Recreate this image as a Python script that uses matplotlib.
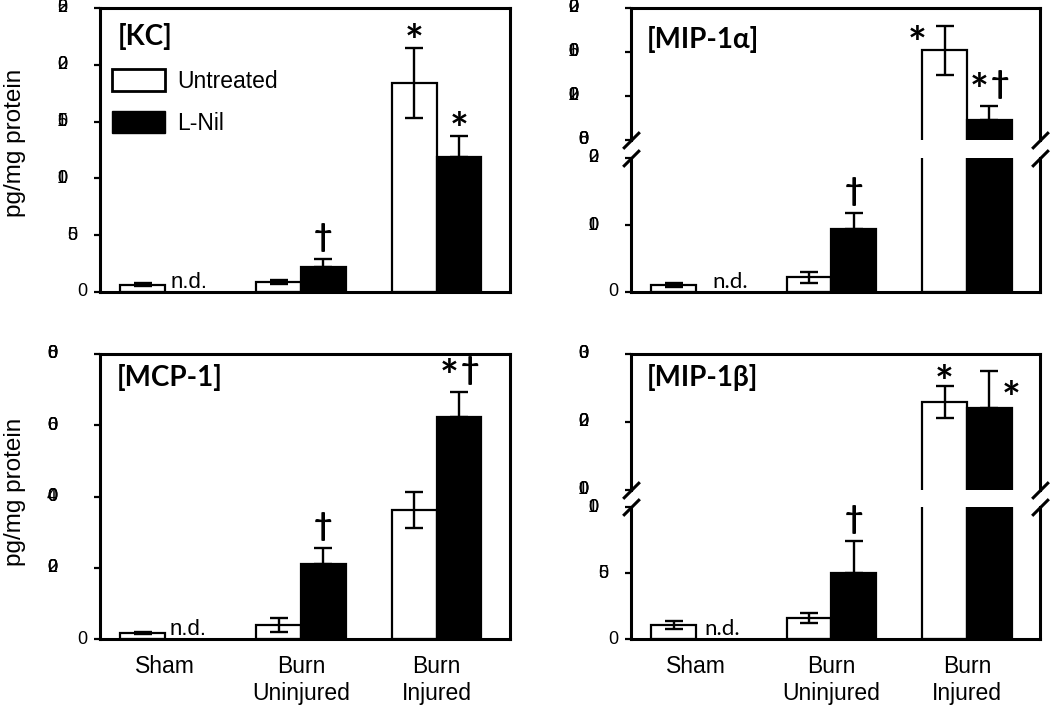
import numpy as np
import matplotlib
matplotlib.use('Agg')
import matplotlib.pyplot as plt
from matplotlib.patches import Patch

plt.rcParams['font.family'] = ['Liberation Sans', 'DejaVu Sans']

groups = ['Sham', 'Burn\nUninjured', 'Burn\nInjured']
series = ['Untreated', 'L-Nil']

# values (sham L-Nil = n.d.)
kc_untreated = [6.5, 8.7, 184]
kc_untreated_err = [1.5, 2.0, 31]
kc_lnil = [np.nan, 22, 119]
kc_lnil_err = [np.nan, 7, 18]
kc_ticks = [0, 50, 100, 150, 200, 250]

mip1a_untreated = [10, 22, 16150]
mip1a_untreated_err = [3, 8, 2250]
mip1a_lnil = [np.nan, 94, 9790]
mip1a_lnil_err = [np.nan, 24, 1340]
mip1a_ticks_low = [0, 100, 200]
mip1a_ticks_high = [8000, 12000, 16000, 20000]

mcp1_untreated = [170, 400, 3630]
mcp1_untreated_err = [30, 190, 510]
mcp1_lnil = [np.nan, 2110, 6225]
mcp1_lnil_err = [np.nan, 450, 700]
mcp1_ticks = [0, 2000, 4000, 6000, 8000]

mip1b_untreated = [10.6, 16, 2300]
mip1b_untreated_err = [3, 3.7, 235]
mip1b_lnil = [np.nan, 50, 2200]
mip1b_lnil_err = [np.nan, 24, 550]
mip1b_ticks_low = [0, 50, 100]
mip1b_ticks_high = [1000, 2000, 3000]

# significance marks per bar
kc_marks = [['', '', '*'], ['', '†', '*']]
mip1a_marks = [['', '', '*'], ['', '†', '*†']]
mcp1_marks = [['', '', ''], ['', '†', '*†']]
mip1b_marks = [['', '', '*'], ['', '†', '*']]

W = 0.33
X = np.arange(3)
SYM_FONT = ['Lato', 'DejaVu Sans']

fig = plt.figure(figsize=(10.5, 7.06), dpi=100)


def px_axes(left, top, right, bottom):
    return fig.add_axes([left / 1050, (706 - bottom) / 706,
                         (right - left) / 1050, (bottom - top) / 706])


def style(ax, ylim, ticks):
    ax.set_xlim(-0.48, 2.54)
    ax.set_ylim(*ylim)
    for s in ax.spines.values():
        s.set_linewidth(2.2)
    ax.tick_params(axis='x', length=0, labelbottom=False)
    ax.tick_params(axis='y', length=4, width=1.6, labelleft=False)
    ax.set_yticks(ticks)
    # tick labels come out with all digits stacked on one spot
    for t in ticks:
        s = str(t)
        for ch in s:
            ax.annotate(ch, xy=(0, t), xycoords=('axes fraction', 'data'),
                        xytext=(-(9.4 + 7.2 * len(s)), 0), textcoords='offset points',
                        ha='left', va='center', fontsize=13, annotation_clip=False)


def bars(ax, unt, unt_err, lnil, lnil_err):
    ax.bar(X - W / 2, unt, W, color='white', edgecolor='black', linewidth=1.6, zorder=2)
    ax.bar(X + W / 2, lnil, W, color='black', edgecolor='black', linewidth=1.6, zorder=2)
    ax.errorbar(X - W / 2, unt, yerr=unt_err, fmt='none', ecolor='black',
                elinewidth=1.7, capsize=6.5, capthick=1.7, zorder=3)
    ax.errorbar(X + W / 2, lnil, yerr=[np.zeros(3), lnil_err], fmt='none', ecolor='black',
                elinewidth=1.7, capsize=6.5, capthick=1.7, zorder=3)


def symbol(ax, ch, x, y, dx, dy):
    big = ch == '*'
    ax.annotate(ch, xy=(x, y), xytext=(dx, dy), textcoords='offset points',
                ha='center', va='center', fontsize=32 if big else 23,
                fontweight='bold', family=SYM_FONT, annotation_clip=False)


def marks(ax, marks_list, vals, errs, special=None):
    special = special or {}
    for k, (m_row, v_row, e_row) in enumerate(zip(marks_list, vals, errs)):
        for i, m in enumerate(m_row):
            if not m:
                continue
            x = X[i] + (k - 0.5) * W
            top = v_row[i] + e_row[i]
            if m == '*†':
                symbol(ax, '*', x, top, -7, 10)
                symbol(ax, '†', x, top, 7.5, 15.5)
            elif m == '*':
                dx, dy = special.get((k, i), (0, 3.6))
                symbol(ax, '*', x, top, dx, dy)
            else:
                symbol(ax, m, x, top, 0, 15.5)


def nd(ax, dx, family):
    ax.annotate('n.d.', xy=(X[0], 0), xytext=(dx, 3), textcoords='offset points',
                ha='left', va='baseline', fontsize=16, family=family)


def title(ax, text, x, y):
    ax.text(x, y, text, transform=ax.transAxes, ha='left', va='center',
            fontsize=20, fontweight='bold', family=SYM_FONT)


def breaks(ax, y):
    ax.plot([0, 1], [y, y], transform=ax.transAxes, marker=[(-1, -1), (1, 1)],
            markersize=12, mew=2.2, color='black', linestyle='none', clip_on=False)


# [KC]
ax = px_axes(100, 8, 510, 292)
style(ax, (0, 250), kc_ticks)
bars(ax, kc_untreated, kc_untreated_err, kc_lnil, kc_lnil_err)
marks(ax, kc_marks, [kc_untreated, kc_lnil], [kc_untreated_err, kc_lnil_err])
nd(ax, 4, ['Liberation Sans'])
title(ax, '[KC]', 0.044, 0.899)
ax.legend([Patch(facecolor='white', edgecolor='black', linewidth=2),
           Patch(facecolor='black', edgecolor='black')], series,
          loc='upper left', bbox_to_anchor=(0.029, 0.785), frameon=False, fontsize=16.5,
          handlelength=2.3, handleheight=1.1, handletextpad=0.55, labelspacing=0.78,
          borderpad=0, borderaxespad=0)

# [MIP-1α] broken axis
hi = px_axes(631, 8, 1040, 140)
lo = px_axes(631, 158, 1040, 292)
style(hi, (8000, 20000), mip1a_ticks_high)
style(lo, (0, 200), mip1a_ticks_low)
for a in (hi, lo):
    bars(a, mip1a_untreated, mip1a_untreated_err, mip1a_lnil, mip1a_lnil_err)
hi.spines['bottom'].set_visible(False)
lo.spines['top'].set_visible(False)
breaks(hi, 0)
breaks(lo, 1)
marks(hi, [['', '', mip1a_marks[0][2]], ['', '', mip1a_marks[1][2]]],
      [mip1a_untreated, mip1a_lnil], [mip1a_untreated_err, mip1a_lnil_err],
      special={(0, 2): (-20, -14)})
marks(lo, [['', '', ''], ['', mip1a_marks[1][1], '']],
      [mip1a_untreated, mip1a_lnil], [mip1a_untreated_err, mip1a_lnil_err])
nd(lo, 12, SYM_FONT)
title(hi, '[MIP-1α]', 0.039, 0.765)

# [MCP-1]
ax = px_axes(100, 354, 510, 639)
style(ax, (0, 8000), mcp1_ticks)
bars(ax, mcp1_untreated, mcp1_untreated_err, mcp1_lnil, mcp1_lnil_err)
marks(ax, mcp1_marks, [mcp1_untreated, mcp1_lnil], [mcp1_untreated_err, mcp1_lnil_err])
nd(ax, 3, ['Liberation Sans'])
title(ax, '[MCP-1]', 0.041, 0.916)
ax.set_xticks(X)
ax.set_xticklabels(groups, fontsize=16.5)
ax.tick_params(axis='x', labelbottom=True, pad=11.5)

# [MIP-1β] broken axis
hi = px_axes(631, 354, 1040, 490)
lo = px_axes(631, 507, 1040, 639)
style(hi, (1000, 3000), mip1b_ticks_high)
style(lo, (0, 100), mip1b_ticks_low)
for a in (hi, lo):
    bars(a, mip1b_untreated, mip1b_untreated_err, mip1b_lnil, mip1b_lnil_err)
hi.spines['bottom'].set_visible(False)
lo.spines['top'].set_visible(False)
breaks(hi, 0)
breaks(lo, 1)
marks(hi, [['', '', mip1b_marks[0][2]], ['', '', mip1b_marks[1][2]]],
      [mip1b_untreated, mip1b_lnil], [mip1b_untreated_err, mip1b_lnil_err],
      special={(0, 2): (0, 1), (1, 2): (16, -21)})
marks(lo, [['', '', ''], ['', mip1b_marks[1][1], '']],
      [mip1b_untreated, mip1b_lnil], [mip1b_untreated_err, mip1b_lnil_err])
nd(lo, 6, SYM_FONT)
title(hi, '[MIP-1β]', 0.039, 0.824)
lo.set_xticks(X)
lo.set_xticklabels(groups, fontsize=16.5)
lo.tick_params(axis='x', labelbottom=True, pad=11.5)

fig.text(15 / 1050, 0.797, 'pg/mg protein', rotation=90, ha='center', va='center', fontsize=17.5)
fig.text(15 / 1050, 0.303, 'pg/mg protein', rotation=90, ha='center', va='center', fontsize=17.5)

fig.savefig('out.png', dpi=100)
